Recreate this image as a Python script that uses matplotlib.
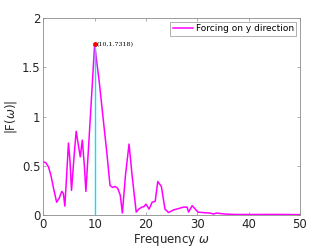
import matplotlib
matplotlib.use("Agg")
import matplotlib.pyplot as plt

freq = [0, 0.5, 1.0, 1.5, 2.0, 2.6, 3.1, 3.6, 3.9, 4.2, 4.6, 4.9, 5.2, 5.5, 6.0, 6.4,
        6.8, 7.2, 7.6, 8.0, 8.3, 9.0, 10.0, 10.9, 11.7, 12.4, 13.0, 13.5, 14.0, 14.5,
        15.0, 15.4, 16.0, 16.7, 17.3, 18.1, 18.6, 19.2, 19.6, 20.0, 20.6, 21.2, 21.8,
        22.3, 23.0, 23.7, 24.4, 25.3, 26.3, 27.3, 28.0, 28.3, 29.0, 29.6, 30.1, 31.0,
        32.4, 33.2, 33.7, 35.3, 37.0, 40.0, 45.0, 50.0]
amp = [0.54, 0.53, 0.49, 0.40, 0.27, 0.13, 0.17, 0.24, 0.22, 0.09, 0.45, 0.73, 0.55,
       0.25, 0.60, 0.85, 0.72, 0.59, 0.76, 0.50, 0.24, 0.85, 1.7318, 1.35, 0.96, 0.62,
       0.30, 0.28, 0.29, 0.27, 0.20, 0.02, 0.40, 0.72, 0.40, 0.03, 0.06, 0.08, 0.085,
       0.11, 0.06, 0.13, 0.14, 0.34, 0.29, 0.06, 0.025, 0.05, 0.065, 0.08, 0.08, 0.03,
       0.095, 0.06, 0.03, 0.025, 0.02, 0.01, 0.02, 0.01, 0.006, 0.005, 0.006, 0.004]
peak_x = 10
peak_y = 1.7318
xticks = [0, 10, 20, 30, 40, 50]
yticks = [0, 0.5, 1, 1.5, 2]

fig = plt.figure(figsize=(3.32, 2.49), dpi=100)
ax = fig.add_axes([0.1304, 0.1365, 0.7732, 0.7912])
ax.plot(freq, amp, color='#ff00ff', lw=1.1, label='Forcing on y direction')
ax.plot([peak_x, peak_x], [0, peak_y], color='#00e5ff', lw=1.0)
ax.plot([peak_x], [peak_y], 'o', color='red', ms=2.5)
ax.text(peak_x + 0.3, peak_y, '(10,1.7318)', fontsize=4.5, family='DejaVu Serif',
        va='center', ha='left')
ax.set_xlim(0, 50)
ax.set_ylim(0, 2)
ax.set_xticks(xticks)
ax.set_yticks(yticks)
ax.set_yticklabels(['0', '0.5', '1', '1.5', '2'])
for s in ax.spines.values():
    s.set_color('#8c8c8c')
    s.set_linewidth(0.6)
ax.tick_params(direction='in', length=2.5, width=0.5, color='#8c8c8c',
               labelsize=8.5, labelcolor='#262626', top=True, right=True, pad=2)
ax.set_xlabel(r'Frequency $\omega$', fontsize=8.5, color='#262626', labelpad=1)
ax.set_ylabel(r'|F($\omega$)|', fontsize=8.5, color='#262626', labelpad=2)
leg = ax.legend(loc='upper right', fontsize=6.5, frameon=True, fancybox=False,
                handlelength=2.2, borderpad=0.3, handletextpad=0.3,
                borderaxespad=0.4)
leg.get_frame().set_edgecolor('#8c8c8c')
leg.get_frame().set_linewidth(0.6)
fig.savefig('out.png', dpi=100)
